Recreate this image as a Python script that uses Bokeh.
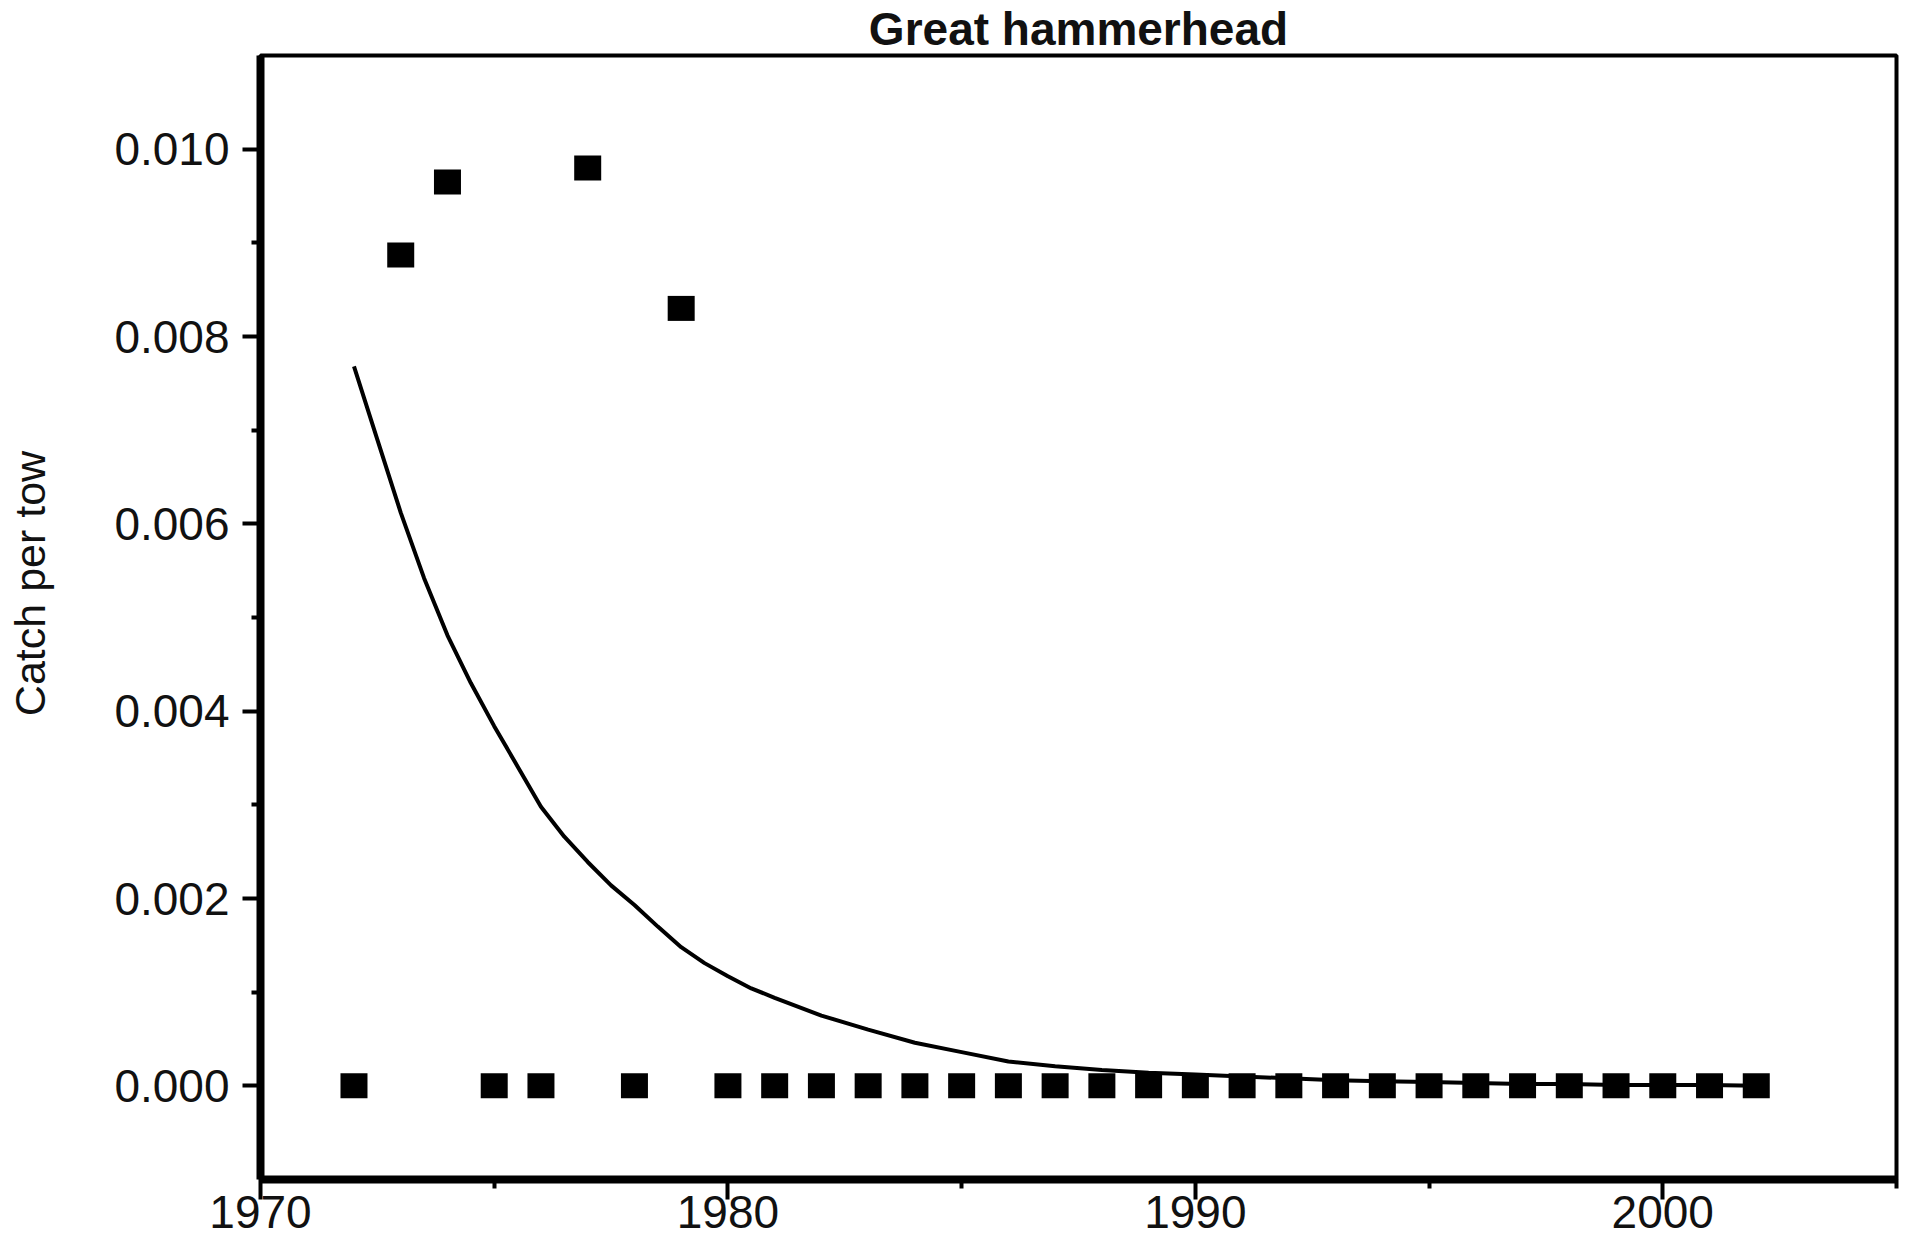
import math
from bokeh.plotting import figure
from bokeh.models import Range1d, FixedTicker, NumeralTickFormatter, Label
from bokeh.embed import file_html
from bokeh.resources import INLINE

# ---------------- data ----------------
chart_title = "Great hammerhead"
y_title = "Catch per tow"

obs_years = [1972, 1973, 1974, 1975, 1976, 1977, 1978, 1979,
             1980, 1981, 1982, 1983, 1984, 1985, 1986, 1987, 1988, 1989,
             1990, 1991, 1992, 1993, 1994, 1995, 1996, 1997, 1998, 1999,
             2000, 2001, 2002]
obs_cpue = [0.0, 0.00887, 0.00965, 0.0, 0.0, 0.00980, 0.0, 0.00830,
            0.0, 0.0, 0.0, 0.0, 0.0, 0.0, 0.0, 0.0, 0.0, 0.0,
            0.0, 0.0, 0.0, 0.0, 0.0, 0.0, 0.0, 0.0, 0.0, 0.0,
            0.0, 0.0, 0.0]

fit_years = [1972, 1972.5, 1973, 1973.5, 1974, 1974.5, 1975, 1975.5, 1976, 1976.5,
             1977, 1977.5, 1978, 1978.5, 1979, 1979.5, 1980, 1980.5, 1981, 1982,
             1983, 1984, 1985, 1986, 1987, 1988, 1989, 1990, 1991, 1992,
             1993, 1994, 1995, 1996, 1997, 1998, 1999, 2000, 2001, 2002]
fit_cpue = [0.00768, 0.00690, 0.00612, 0.00542, 0.00481, 0.00430, 0.00384, 0.00341, 0.00298, 0.00266,
            0.00239, 0.00214, 0.00193, 0.00170, 0.00148, 0.00131, 0.00117, 0.00104, 0.00094, 0.00075,
            0.00060, 0.00046, 0.00036, 0.00026, 0.00021, 0.00017, 0.00014, 0.00012, 0.00010, 0.00008,
            0.00006, 0.00005, 0.00004, 0.00003, 0.00002, 0.00002, 0.00001, 0.00001, 0.00001, 0.00000]

x_min, x_max = 1970, 2005
y_min, y_max = -0.001, 0.011
x_major_ticks = [1970, 1980, 1990, 2000]
x_minor_ticks = [1975, 1985, 1995, 2005]
x_tick_labels = ["1970", "1980", "1990", "2000"]
y_major_ticks = [0.000, 0.002, 0.004, 0.006, 0.008, 0.010]
y_minor_ticks = [0.001, 0.003, 0.005, 0.007, 0.009]

# ---------------- figure ----------------
FONT = "Liberation Sans"
TXT = "#111111"

p = figure(width=1915, height=1237, output_backend="svg", toolbar_location=None,
           x_range=Range1d(x_min, x_max), y_range=Range1d(y_min, y_max),
           min_border_left=260, min_border_right=19, min_border_top=51, min_border_bottom=58)
p.background_fill_color = "white"
p.border_fill_color = "white"
p.xgrid.visible = False
p.ygrid.visible = False
p.outline_line_color = "black"
p.outline_line_width = 4

p.title.text = chart_title
p.title.align = "center"
p.title.text_font = FONT
p.title.text_font_size = "46px"
p.title.text_font_style = "bold"
p.title.text_color = TXT
p.title.standoff = 1

# y axis
ya = p.yaxis[0]
ya.ticker = FixedTicker(ticks=y_major_ticks, minor_ticks=y_minor_ticks)
ya.formatter = NumeralTickFormatter(format="0.000")
ya.axis_line_width = 8
ya.axis_line_color = "black"
ya.major_tick_in = 0
ya.major_tick_out = 18
ya.minor_tick_in = 0
ya.minor_tick_out = 9
ya.major_tick_line_width = 4
ya.minor_tick_line_width = 4
ya.major_label_standoff = 13
ya.major_label_text_font = FONT
ya.major_label_text_font_size = "46px"
ya.major_label_text_color = TXT

# x axis
xa = p.xaxis[0]
xa.ticker = FixedTicker(ticks=x_major_ticks, minor_ticks=x_minor_ticks)
xa.major_label_overrides = {t: l for t, l in zip(x_major_ticks, x_tick_labels)}
xa.major_label_text_font = FONT
xa.major_label_text_font_size = "46px"
xa.major_label_text_color = TXT
xa.major_label_standoff = -4
xa.axis_line_width = 8
xa.axis_line_color = "black"
xa.major_tick_in = 0
xa.major_tick_out = 20
xa.minor_tick_in = 0
xa.minor_tick_out = 9
xa.major_tick_line_width = 4
xa.minor_tick_line_width = 4

# data
p.line(fit_years, fit_cpue, line_color="black", line_width=4)
p.rect(obs_years, obs_cpue, width=27, height=25, width_units="screen", height_units="screen",
       fill_color="black", line_color="black", line_width=0)

# y axis title (left panel)
p.add_layout(Label(x=x_min, y=(y_min + y_max) / 2, x_offset=-231, y_offset=34, text=y_title,
                   angle=math.pi / 2, text_align="center", text_baseline="alphabetic",
                   text_font=FONT, text_font_size="43px", text_color=TXT), "left")

open("out.html", "w").write(file_html(p, INLINE))
